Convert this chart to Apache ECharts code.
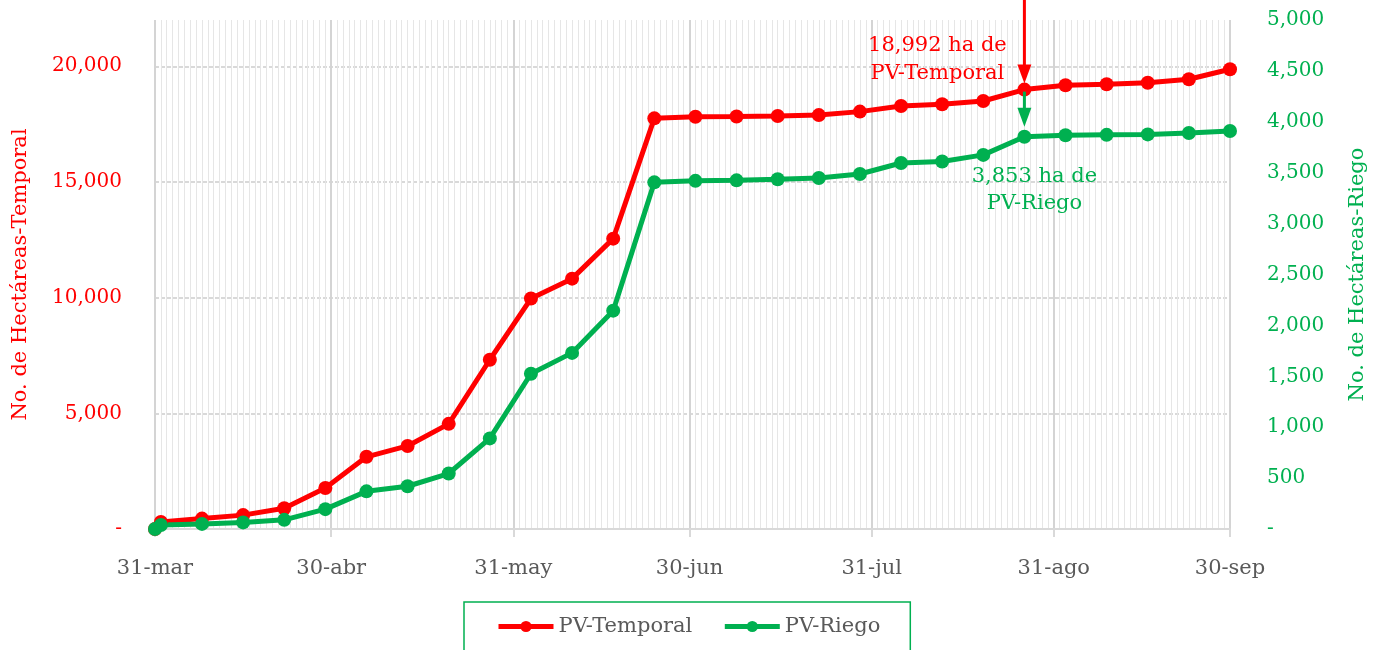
<!DOCTYPE html>
<html lang="es">
<head>
<meta charset="UTF-8">
<title>Avance PV-Temporal y PV-Riego</title>
<script src="https://cdn.jsdelivr.net/npm/echarts@6/dist/echarts.min.js"></script>
</head>
<body style="margin:0">
<div id="main" style="width:1373px;height:650px;"></div>
<script>
    // fechas de corte (semanal)
    var fechas = ['31-mar','1-abr','8-abr','15-abr','22-abr','29-abr','6-may','13-may','20-may','27-may',
        '3-jun','10-jun','17-jun','24-jun','1-jul','8-jul','15-jul','22-jul','29-jul','5-ago',
        '12-ago','19-ago','26-ago','2-sep','9-sep','16-sep','23-sep','30-sep'];
    // hectáreas acumuladas
    var temporal = [0, 300, 450, 600, 900, 1770, 3120, 3590, 4545, 7315,
        9960, 10820, 12550, 17750, 17820, 17830, 17850, 17890, 18040, 18280,
        18360, 18500, 18992, 19180, 19220, 19290, 19440, 19870];
    var riego = [0, 40, 50, 65, 90, 195, 370, 420, 545, 890,
        1525, 1730, 2145, 3405, 3420, 3425, 3435, 3448, 3487, 3595,
        3610, 3675, 3853, 3868, 3872, 3876, 3890, 3910];
    var etiquetasMes = ['31-mar','30-abr','31-may','30-jun','31-jul','31-ago','30-sep'];
    var nota = '26-ago';

    var rojo = '#ff0000', verde = '#00b050', gris = '#595959';
    var fuente = 'DejaVu Serif';

    // todos los días del periodo para el eje
    var meses = ['ene','feb','mar','abr','may','jun','jul','ago','sep','oct','nov','dic'];
    var dias = [];
    var d = new Date(2021, 2, 31), fin = new Date(2021, 8, 30);
    while (d <= fin) {
        dias.push(d.getDate() + '-' + meses[d.getMonth()]);
        d.setDate(d.getDate() + 1);
    }
    function esMes(i, v) { return etiquetasMes.indexOf(v) >= 0; }
    function miles(v) { return v === 0 ? '-' : v.toLocaleString('en-US'); }

    var myChart = echarts.init(document.getElementById('main'));
    var option = {
        animation: false,
        textStyle: {fontFamily: fuente},
        grid: {left: 155, right: 143, top: 20, bottom: 121, outerBoundsMode: 'none'},
        legend: {
            left: 464, top: 602,
            padding: [14, 30, 14, 32],
            borderColor: verde, borderWidth: 1.5,
            itemWidth: 55, itemHeight: 14, itemGap: 30,
            lineStyle: {width: 5},
            textStyle: {color: gris, fontSize: 21, fontFamily: fuente},
            data: ['PV-Temporal', 'PV-Riego']
        },
        xAxis: [
            {   // líneas diarias
                type: 'category', data: dias, boundaryGap: false,
                axisLine: {show: false}, axisTick: {show: false}, axisLabel: {show: false},
                splitLine: {show: true, interval: 0, lineStyle: {color: '#e6e6e6', width: 1}}
            },
            {   // meses
                type: 'category', data: dias, boundaryGap: false, position: 'bottom',
                axisLine: {show: true, lineStyle: {color: '#d9d9d9', width: 2}},
                axisTick: {show: true, interval: esMes, length: 8, lineStyle: {color: '#d9d9d9', width: 2}},
                axisLabel: {interval: esMes, margin: 29, color: gris, fontSize: 21, fontFamily: fuente},
                splitLine: {show: true, interval: esMes, lineStyle: {color: '#d4d4d4', width: 2}}
            }
        ],
        yAxis: [
            {
                type: 'value', min: 0, max: 22000, interval: 5000,
                name: 'No. de Hectáreas-Temporal', nameLocation: 'middle', nameRotate: 90, nameGap: 124,
                nameTextStyle: {color: rojo, fontSize: 21, fontFamily: fuente},
                axisLine: {show: false}, axisTick: {show: false},
                axisLabel: {color: rojo, fontSize: 20, margin: 33, showMaxLabel: false, formatter: miles},
                splitLine: {lineStyle: {type: [4, 2], width: 2,
                    color: ['#d9d9d9', '#d9d9d9', '#d9d9d9', '#d9d9d9', '#d9d9d9', 'rgba(0,0,0,0)']}}
            },
            {
                type: 'value', min: 0, max: 5000, interval: 500, position: 'right',
                name: 'No. de Hectáreas-Riego', nameLocation: 'middle', nameRotate: 90, nameGap: 117,
                nameTextStyle: {color: verde, fontSize: 21, fontFamily: fuente},
                axisLine: {show: false}, axisTick: {show: false},
                axisLabel: {color: verde, fontSize: 20, margin: 37, formatter: miles},
                splitLine: {show: false}
            }
        ],
        series: [
            {
                name: 'PV-Temporal', type: 'line', yAxisIndex: 0,
                data: fechas.map(function (f, i) { return [f, temporal[i]]; }),
                symbol: 'circle', symbolSize: 14, showAllSymbol: true,
                lineStyle: {color: rojo, width: 5}, itemStyle: {color: rojo}
            },
            {
                name: 'PV-Riego', type: 'line', yAxisIndex: 1,
                data: fechas.map(function (f, i) { return [f, riego[i]]; }),
                symbol: 'circle', symbolSize: 14, showAllSymbol: true,
                lineStyle: {color: verde, width: 5}, itemStyle: {color: verde}
            }
        ]
    };
    myChart.setOption(option);

    // flechas y textos de la anotación
    var k = fechas.indexOf(nota);
    var pR = myChart.convertToPixel({xAxisIndex: 0, yAxisIndex: 0}, [nota, temporal[k]]);
    var pG = myChart.convertToPixel({xAxisIndex: 0, yAxisIndex: 1}, [nota, riego[k]]);
    var x = pR[0];
    var f21 = '21px "DejaVu Serif"';
    myChart.setOption({
        graphic: [
            {type: 'line', shape: {x1: x, y1: 0, x2: x, y2: pR[1] - 22}, style: {stroke: rojo, lineWidth: 3}, z: 100},
            {type: 'polygon', shape: {points: [[x - 7, pR[1] - 25], [x + 7, pR[1] - 25], [x, pR[1] - 6]]}, style: {fill: rojo}, z: 100},
            {type: 'line', shape: {x1: x, y1: pR[1] + 2, x2: x, y2: pG[1] - 26}, style: {stroke: verde, lineWidth: 3}, z: 100},
            {type: 'polygon', shape: {points: [[x - 7, pG[1] - 29], [x + 7, pG[1] - 29], [x, pG[1] - 10]]}, style: {fill: verde}, z: 100},
            {type: 'text', z: 100, style: {text: miles(temporal[k]) + ' ha de\nPV-Temporal', x: x - 87, y: pR[1] - 30,
                align: 'center', verticalAlign: 'middle', lineHeight: 28, fill: rojo, font: f21}},
            {type: 'text', z: 100, style: {text: miles(riego[k]) + ' ha de\nPV-Riego', x: x + 10, y: pG[1] + 53,
                align: 'center', verticalAlign: 'middle', lineHeight: 27, fill: verde, font: f21}}
        ]
    });
</script>
</body>
</html>
